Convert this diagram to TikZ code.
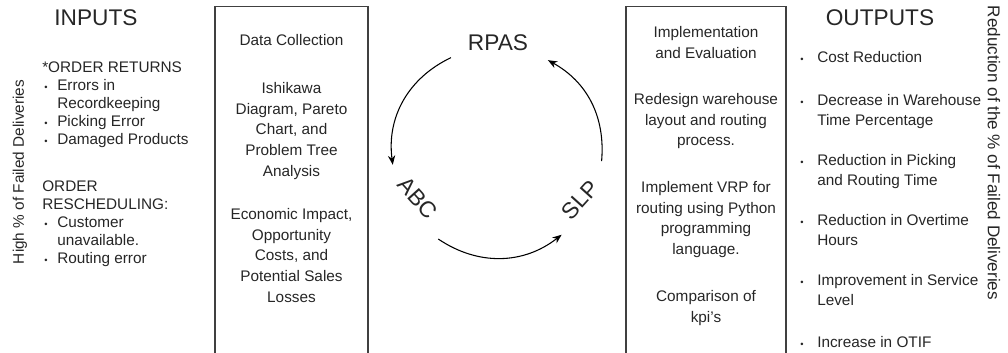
\documentclass[tikz,border=0pt]{standalone}
\usepackage{fontspec}
\setmainfont{Liberation Sans}
\usetikzlibrary{arrows.meta}

\begin{document}
\begin{tikzpicture}[x=0.75pt, y=0.75pt,
  title/.style={font=\fontsize{17}{20}\selectfont, text=\diagTextColor, inner sep=0pt},
  sidelbl/.style={font=\fontsize{11.5}{13.5}\selectfont, text=\diagTextColor, inner sep=0pt},
  inlist/.style={font=\fontsize{11.5}{13.5}\selectfont, text=\diagTextColor, align=left, anchor=north west, inner sep=0pt},
  outlist/.style={font=\fontsize{11.5}{15}\selectfont, text=\diagTextColor, align=left, anchor=north west, inner sep=0pt},
  boxtext/.style={font=\fontsize{11.5}{15.5}\selectfont, text=\diagTextColor, align=center, anchor=north, inner sep=0pt},
  frame/.style={draw=\diagLineColor, line width=\diagLineWidth, minimum height=270pt, anchor=north, inner sep=0pt},
  cyclbl/.style={font=\fontsize{17}{20}\selectfont, text=\diagTextColor, inner sep=0pt},
  flow/.style={draw=black, line width=0.8pt, -{Stealth[length=7pt, width=5.5pt]}}]
% Process diagram, coordinates in px of the page, y upwards
\providecommand{\diagTextColor}{black!85}
\providecommand{\diagLineColor}{black!75}
\providecommand{\diagLineWidth}{0.9pt}
\providecommand{\inbul}{\makebox[11.25pt][l]{\hspace{1.5pt}\scriptsize\textbullet}}
\providecommand{\inind}{\hspace*{11.25pt}}
\providecommand{\outbul}{\makebox[12.75pt][l]{\scriptsize\textbullet}}
\providecommand{\outind}{\hspace*{12.75pt}}
\useasboundingbox (0,0) rectangle (1008,353);
\clip (0,0) rectangle (1008,353);
% Inputs column
\node[title] (intitle) at (96,335) {INPUTS};
\node[sidelbl, rotate=90] (highlbl) at (20,181) {High \% of Failed Deliveries};
\node[inlist] (inret) at (42,291) {*ORDER RETURNS\\
  \inbul Errors in\\
  \inind Recordkeeping\\
  \inbul Picking Error\\
  \inbul Damaged Products};
\node[inlist] (inres) at (42,172) {ORDER\\
  RESCHEDULING:\\
  \inbul Customer\\
  \inind unavailable.\\
  \inbul Routing error};
% Data collection box
\node[frame, minimum width=114.75pt] (datafrm) at (291.5,347) {};
\node[boxtext] (datattl) at (291.5,319) {Data Collection};
\node[boxtext] (datatools) at (291.5,271) {Ishikawa\\ Diagram, Pareto\\ Chart, and\\ Problem Tree\\ Analysis};
\node[boxtext] (datacost) at (291.5,145) {Economic Impact,\\ Opportunity\\ Costs, and\\ Potential Sales\\ Losses};
% Cycle of methods
\coordinate (cyc) at (497,201);
\node[cyclbl] (rpas) at (498,310) {RPAS};
\node[cyclbl, rotate=-48] (abc) at (418,155) {ABC};
\node[cyclbl, rotate=48] (slp) at (580,153) {SLP};
\coordinate (a1s) at ([shift={(116:105)}]cyc);
\coordinate (a1e) at ([shift={(187:105)}]cyc);
\coordinate (a2s) at ([shift={(236:105)}]cyc);
\coordinate (a2e) at ([shift={(308:105)}]cyc);
\coordinate (a3s) at ([shift={(-5:105)}]cyc);
\coordinate (a3e) at ([shift={(61:105)}]cyc);
\draw[flow] (a1s) to[bend right=36] (a1e);
\draw[flow] (a2s) to[bend right=36] (a2e);
\draw[flow] (a3s) to[bend right=33] (a3e);
% Implementation box
\node[frame, minimum width=120pt] (implfrm) at (706,347) {};
\node[boxtext] (implttl) at (706,327) {Implementation\\ and Evaluation};
\node[boxtext] (impllay) at (706,260) {Redesign warehouse\\ layout and routing\\ process.};
\node[boxtext] (implvrp) at (706,172) {Implement VRP for\\ routing using Python\\ programming\\ language.};
\node[boxtext] (implkpi) at (706,63) {Comparison of\\ kpi's};
% Outputs column
\node[title] (outtitle) at (880,335) {OUTPUTS};
\node[sidelbl, rotate=-90, font=\fontsize{12.8}{15}\selectfont] (redlbl) at (994,200) {Reduction of the \% of Failed Deliveries};
\node[outlist] (out1) at (800,302) {\outbul Cost Reduction};
\node[outlist] (out2) at (800,259) {\outbul Decrease in Warehouse\\ \outind Time Percentage};
\node[outlist] (out3) at (800,199) {\outbul Reduction in Picking\\ \outind and Routing Time};
\node[outlist] (out4) at (800,139) {\outbul Reduction in Overtime\\ \outind Hours};
\node[outlist] (out5) at (800,79) {\outbul Improvement in Service\\ \outind Level};
\node[outlist] (out6) at (800,17) {\outbul Increase in OTIF};
\end{tikzpicture}
\end{document}
